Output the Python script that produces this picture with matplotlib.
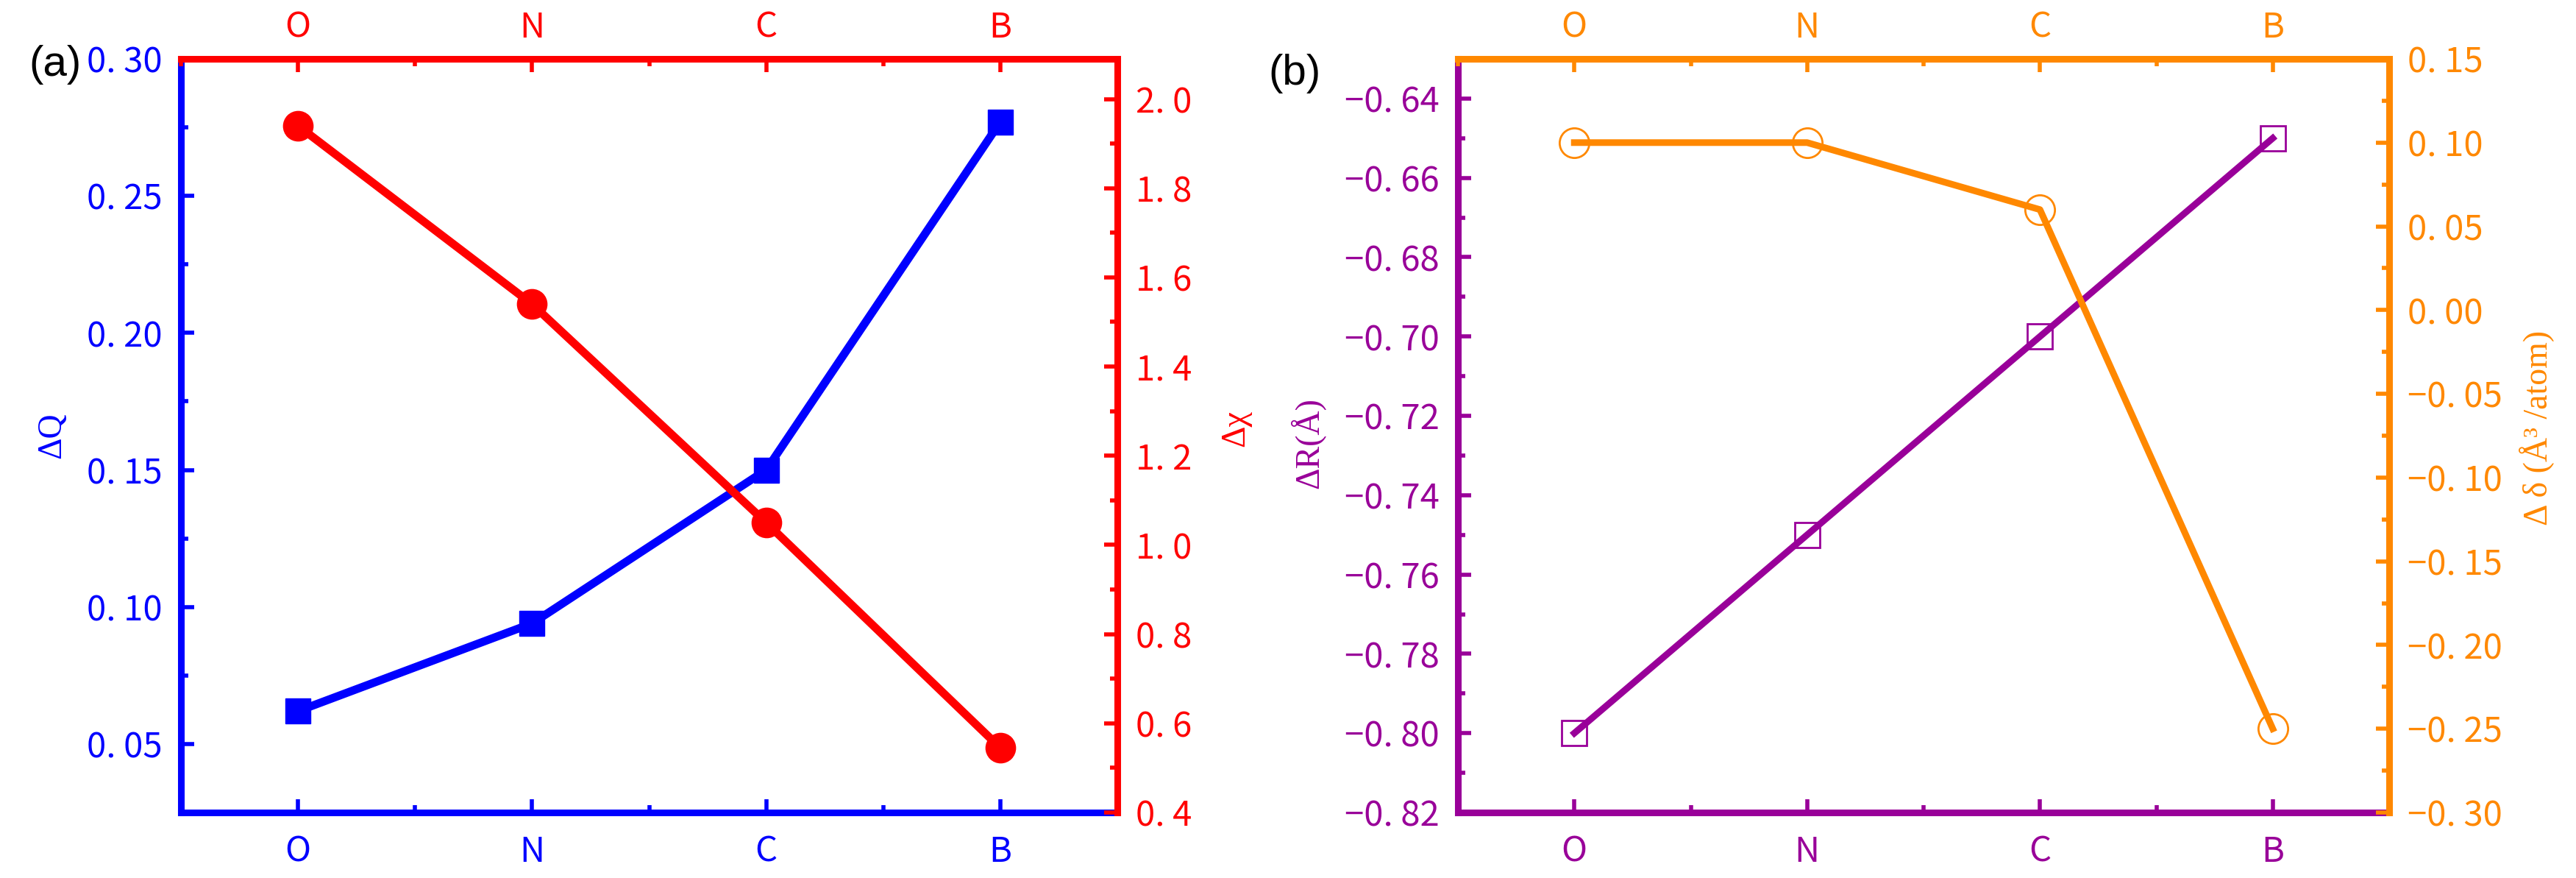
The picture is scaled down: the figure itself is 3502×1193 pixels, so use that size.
import matplotlib
matplotlib.use("Agg")
import matplotlib.pyplot as plt
from matplotlib.ticker import MultipleLocator, FuncFormatter

# ---- data ----
elements = ["O", "N", "C", "B"]
dQ = [0.062, 0.094, 0.150, 0.277]        # panel (a), left axis
dchi = [1.94, 1.54, 1.05, 0.545]          # panel (a), right axis
dR = [-0.80, -0.75, -0.70, -0.65]         # panel (b), left axis
ddelta = [0.10, 0.10, 0.06, -0.25]        # panel (b), right axis

BLUE, RED, PURPLE, ORANGE = "#0000FF", "#FF0000", "#990099", "#FF8800"
SERIF = ["Liberation Serif", "DejaVu Serif"]
plt.rcParams["font.family"] = ["Noto Sans CJK SC", "DejaVu Sans"]

W, H = 3502, 1193
fig = plt.figure(figsize=(W / 100, H / 100), dpi=100)


def rect(l, r, t, b):                     # pixel box -> figure fraction
    return [l / W, 1 - b / H, (r - l) / W, (b - t) / H]


def fmt(nd):
    return FuncFormatter(lambda v, p: f"{v:.{nd}f}".replace("-", "\u2212").replace(".", ". "))


def panel(box, c1, c2, lim1, lim2, steps1, steps2, nd1, nd2):
    ax = fig.add_axes(rect(*box))
    tw = ax.twinx()
    x = list(range(len(elements)))
    ax.set_xlim(-0.5, 3.5)
    ax.set_xticks(x, elements)
    ax.xaxis.set_minor_locator(MultipleLocator(0.5))
    ax.set_ylim(*lim1); tw.set_ylim(*lim2)
    ax.yaxis.set_major_locator(MultipleLocator(steps1[0])); ax.yaxis.set_minor_locator(MultipleLocator(steps1[1]))
    tw.yaxis.set_major_locator(MultipleLocator(steps2[0])); tw.yaxis.set_minor_locator(MultipleLocator(steps2[1]))
    ax.yaxis.set_major_formatter(fmt(nd1)); tw.yaxis.set_major_formatter(fmt(nd2))

    for s in ("top", "right"): ax.spines[s].set_visible(False)
    for s in ("left", "bottom"): tw.spines[s].set_visible(False)
    for s in ("left", "bottom"): ax.spines[s].set_color(c1); ax.spines[s].set_linewidth(6.5)
    for s in ("right", "top"): tw.spines[s].set_color(c2); tw.spines[s].set_linewidth(6.5)

    tw.xaxis.set_visible(True)
    kw = dict(direction="in", labelsize=34, width=4)
    for a, c in ((ax, c1), (tw, c2)):
        a.tick_params(axis="both", which="major", length=13, colors=c, **kw)
        a.tick_params(axis="both", which="minor", length=7, colors=c, direction="in", width=4)
    ax.tick_params(axis="x", which="both", top=False, labeltop=False, bottom=True, labelbottom=True)
    ax.tick_params(axis="x", which="major", pad=21)
    tw.tick_params(axis="x", which="both", top=True, labeltop=True, bottom=False, labelbottom=False)
    tw.tick_params(axis="x", which="major", pad=13)
    ax.tick_params(axis="y", which="major", pad=18)
    tw.tick_params(axis="y", which="major", pad=18)
    return ax, tw, x


# ---------- (a) ----------
ax, tw, x = panel((246, 1519, 80, 1104), BLUE, RED, (0.025, 0.30), (0.4, 2.09),
                  (0.05, 0.025), (0.2, 0.1), 2, 1)
ax.plot(x, dQ, "-s", color=BLUE, lw=8, ms=25)
tw.plot(x, dchi, "-o", color=RED, lw=8, ms=29)
ax.set_ylabel("ΔQ", color=BLUE, fontsize=33, family=SERIF, va="center")
ax.yaxis.set_label_coords(-0.1375, 0.5)
tw.set_ylabel("Δχ", color=RED, fontsize=33, family=SERIF, va="center", rotation=90)
tw.yaxis.set_label_coords(1.1265, 0.51)

# ---------- (b) ----------
bx, btw, x = panel((1982, 3248, 80, 1104), PURPLE, ORANGE, (-0.82, -0.63), (-0.30, 0.15),
                   (0.02, 0.01), (0.05, 0.025), 2, 2)
bx.plot(x, dR, "-s", color=PURPLE, lw=6.5, ms=24, mfc="none", mew=2)
btw.plot(x, ddelta, "-o", color=ORANGE, lw=6.5, ms=29, mfc="none", mew=2)
bx.set_ylabel("ΔR(Å)", color=PURPLE, fontsize=33, family=SERIF, va="center")
bx.yaxis.set_label_coords(-0.162, 0.49)
btw.set_ylabel("Δ δ (Å³ /atom)", color=ORANGE, fontsize=33, family=SERIF, va="center", rotation=90)
btw.yaxis.set_label_coords(1.158, 0.51)

fig.text(75 / W, 1 - 88 / H, "(a)", fontsize=42, family=["Liberation Sans"], ha="center", va="center")
fig.text(1760 / W, 1 - 100 / H, "(b)", fontsize=42, family=["Liberation Sans"], ha="center", va="center")

fig.savefig("out.png", dpi=100, facecolor="white")
